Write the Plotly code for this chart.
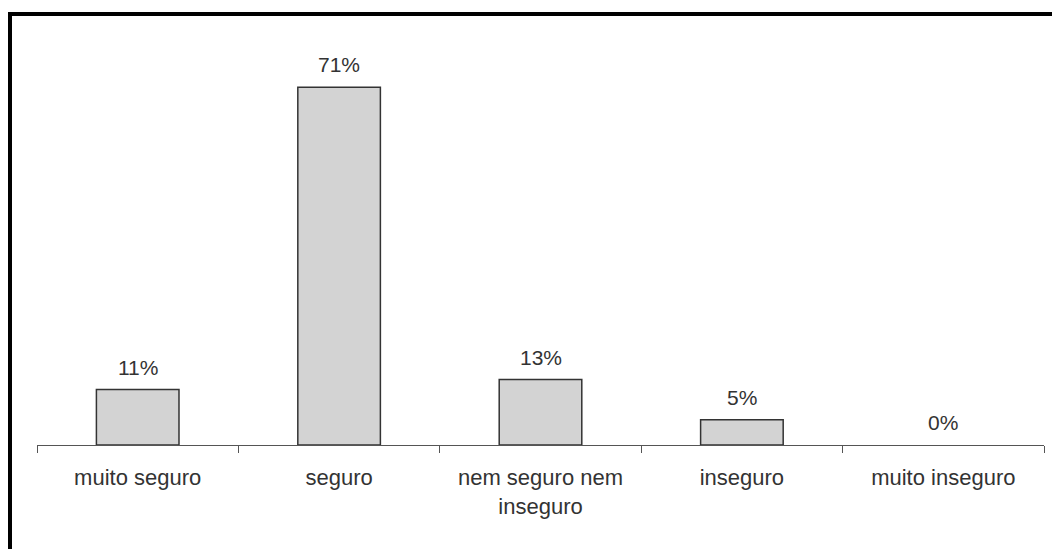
import plotly.graph_objects as go

categories = ["muito seguro", "seguro", "nem seguro nem<br>inseguro", "inseguro", "muito inseguro"]
values = [11, 71, 13, 5, 0]
labels = ["11%", "71%", "13%", "5%", "0%"]

W, H = 1060, 549
OFF = 8  # default page body margin
ml, mr, mt, mb = 37 - OFF, 16 + OFF, 42 - OFF, 104 + OFF
pw, ph = W - ml - mr, H - mt - mb

def px_to_paper_x(px):
    return (px - OFF - ml) / pw

def px_to_paper_y(py):
    return (H - mb - (py - OFF)) / ph

fig = go.Figure()
fig.add_trace(go.Bar(
    x=categories, y=values, width=0.41,
    marker=dict(color="#d3d3d3",
                line=dict(color="#333333", width=[1.5 if v > 0 else 0 for v in values])),
    hoverinfo="skip",
))

for c, v, t in zip(categories, values, labels):
    fig.add_annotation(x=c, y=v, text=t, showarrow=False, yanchor="bottom",
                       yshift=9, font=dict(family="Liberation Sans, Arial", size=21, color="#333333"))

# outer frame (top and left edges)
fig.add_shape(type="line", xref="paper", yref="paper",
              x0=px_to_paper_x(8), x1=px_to_paper_x(1075),
              y0=px_to_paper_y(14), y1=px_to_paper_y(14),
              line=dict(color="black", width=4))
fig.add_shape(type="line", xref="paper", yref="paper",
              x0=px_to_paper_x(10), x1=px_to_paper_x(10),
              y0=px_to_paper_y(12), y1=px_to_paper_y(560),
              line=dict(color="black", width=4))

fig.update_layout(
    width=W, height=H,
    margin=dict(l=ml, r=mr, t=mt, b=mb),
    plot_bgcolor="white", paper_bgcolor="white",
    showlegend=False,
    font=dict(family="Liberation Sans, Arial", size=22, color="#333333"),
    xaxis=dict(type="category", range=[-0.5, 4.5], showline=True, linecolor="#555555",
               linewidth=1, ticks="outside", tickson="boundaries", ticklen=7,
               tickcolor="#555555", tickfont=dict(size=22, color="#333333"),
               ticklabelstandoff=13,
               showgrid=False, zeroline=False),
    yaxis=dict(range=[0, 80], visible=False, showgrid=False, zeroline=False),
)

fig.write_html("out.html")
